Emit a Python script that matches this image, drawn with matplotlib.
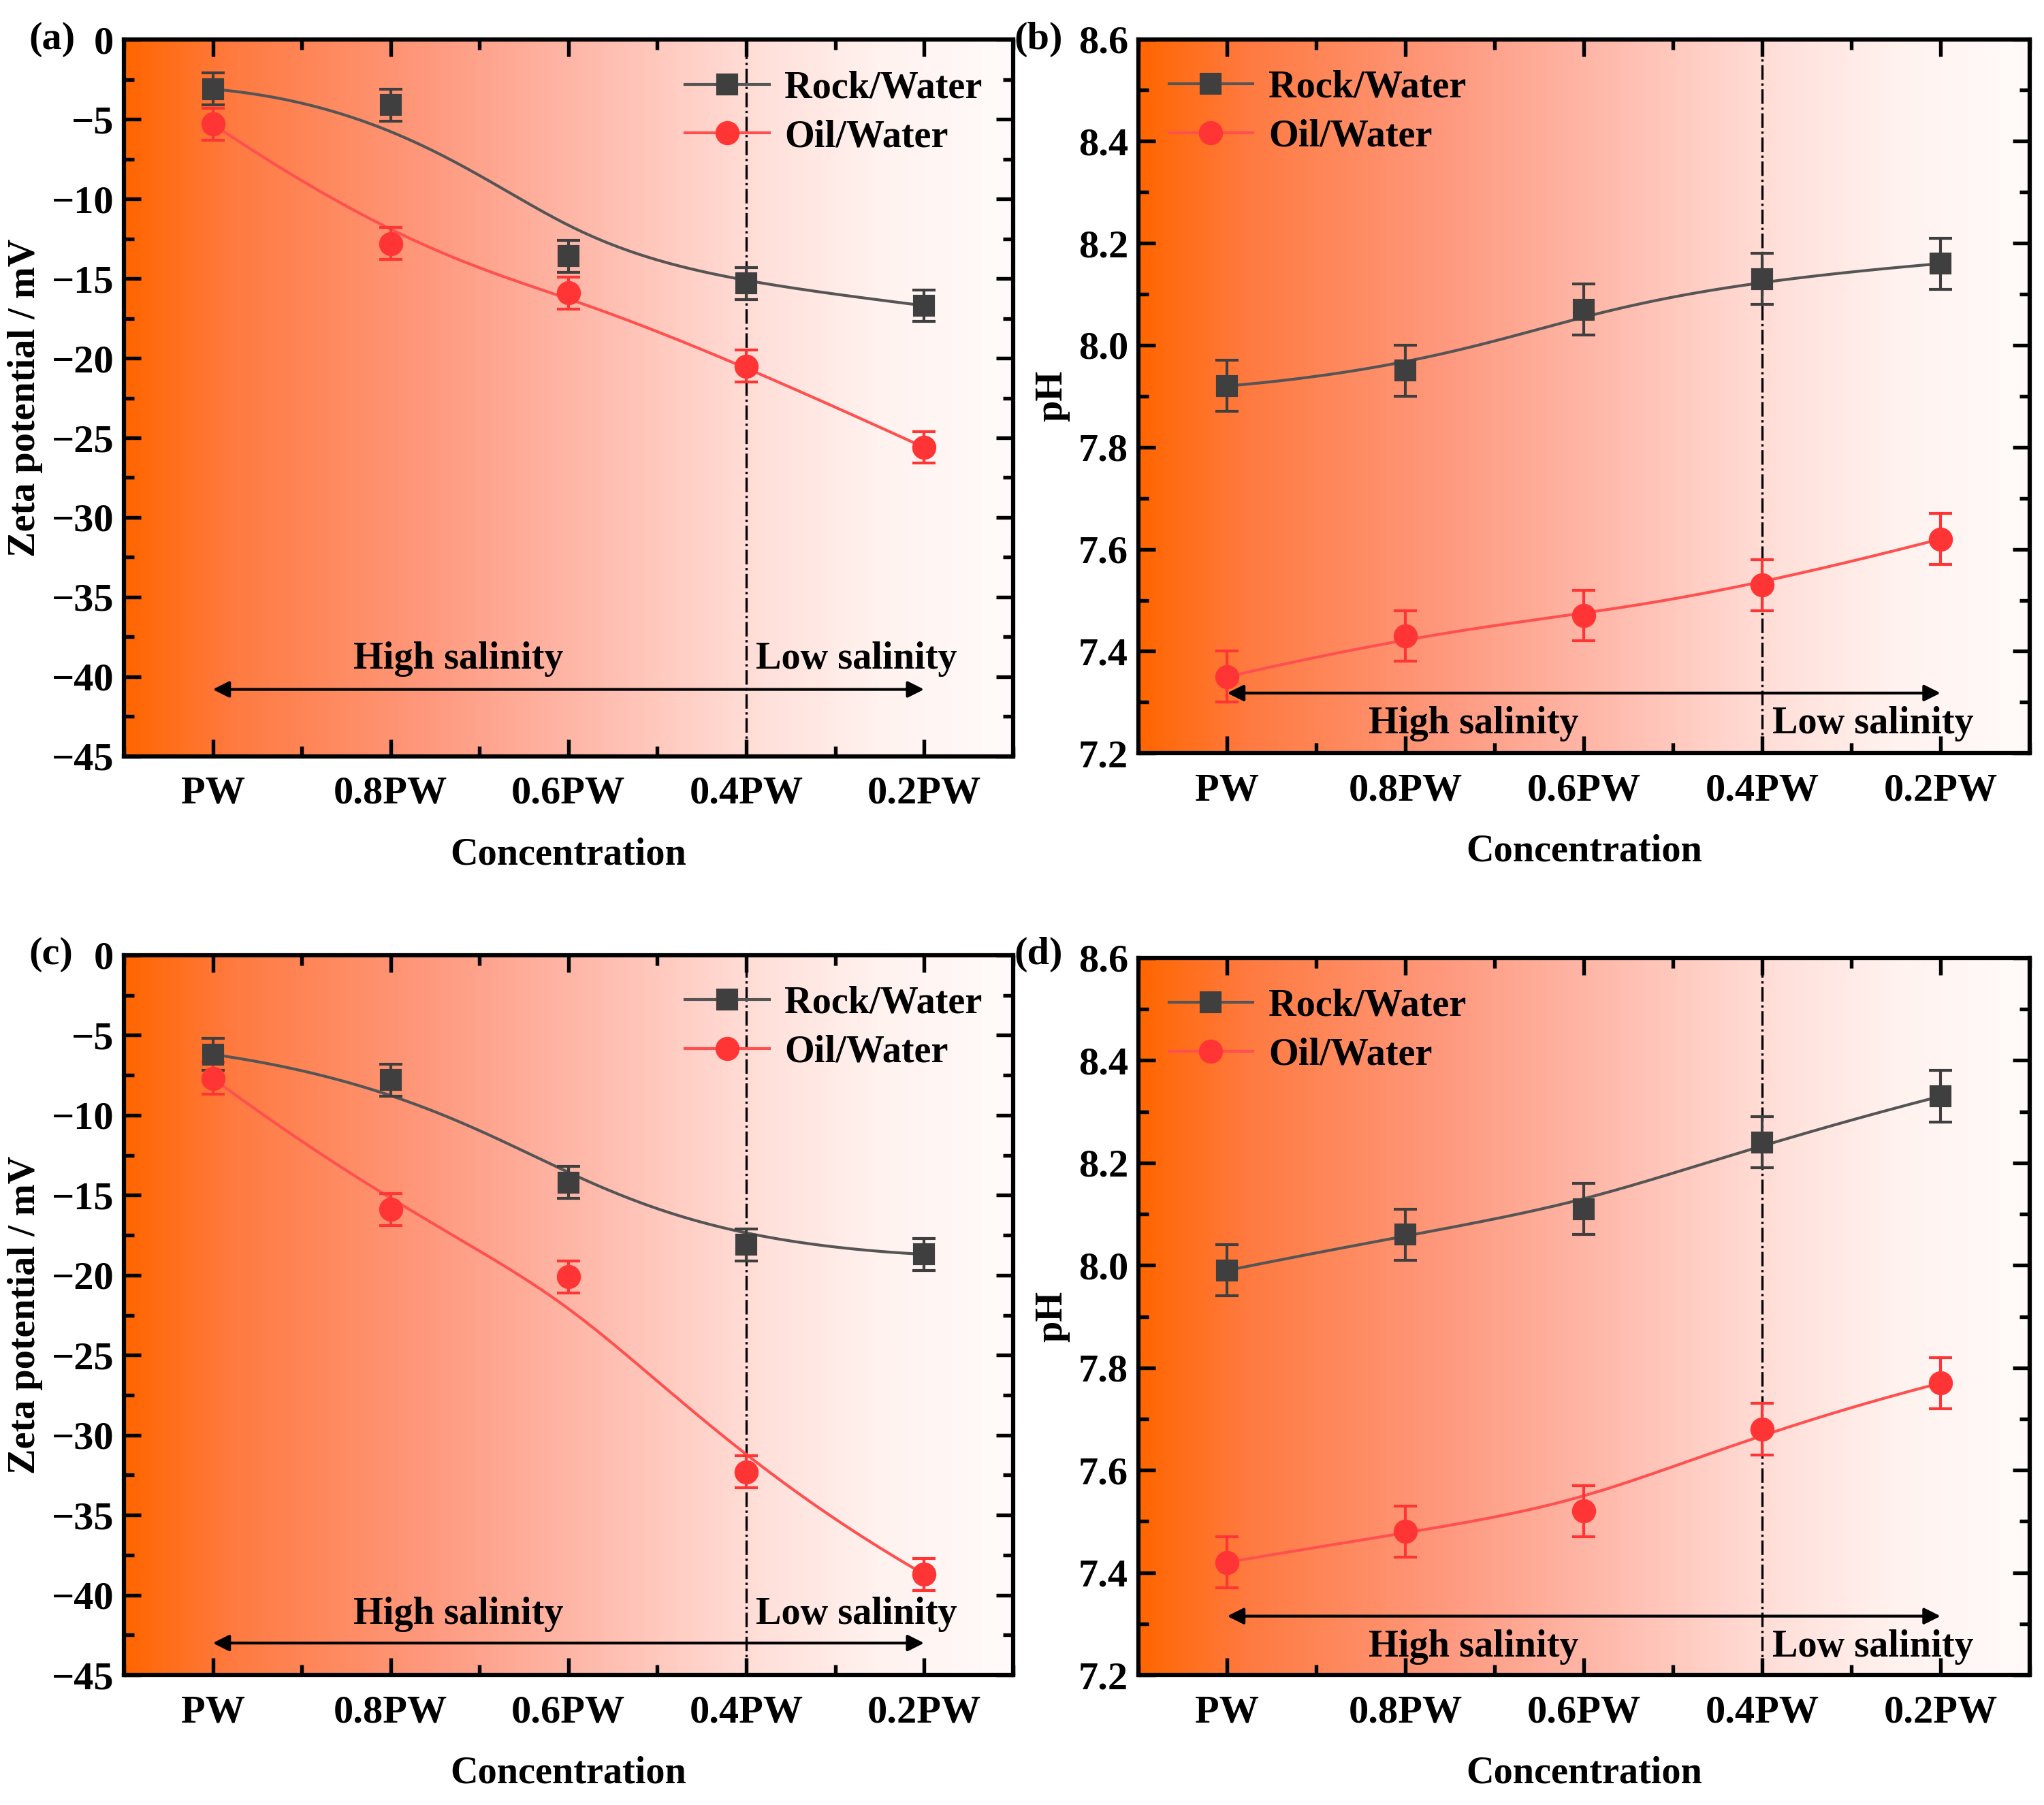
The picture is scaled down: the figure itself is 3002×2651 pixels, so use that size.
import numpy as np
import matplotlib
matplotlib.use("Agg")
import matplotlib.pyplot as plt
from matplotlib.colors import LinearSegmentedColormap
from matplotlib.lines import Line2D
from matplotlib.ticker import MultipleLocator

plt.rcParams['font.family'] = ['Liberation Serif', 'DejaVu Serif']
plt.rcParams['font.weight'] = 'bold'
plt.rcParams['axes.labelweight'] = 'bold'

# ---- data ----
conc = ['PW', '0.8PW', '0.6PW', '0.4PW', '0.2PW']

zeta_rock_a = [-3.1, -4.1, -13.6, -15.3, -16.7]
zeta_oil_a = [-5.3, -12.8, -15.9, -20.5, -25.6]
zeta_err_a = [1.0, 1.0, 1.0, 1.0, 1.0]

ph_rock_b = [7.92, 7.95, 8.07, 8.13, 8.16]
ph_oil_b = [7.35, 7.43, 7.47, 7.53, 7.62]
ph_err_b = [0.05, 0.05, 0.05, 0.05, 0.05]

zeta_rock_c = [-6.2, -7.8, -14.2, -18.1, -18.7]
zeta_oil_c = [-7.7, -15.9, -20.1, -32.3, -38.7]
zeta_err_c = [1.0, 1.0, 1.0, 1.0, 1.0]

ph_rock_d = [7.99, 8.06, 8.11, 8.24, 8.33]
ph_oil_d = [7.42, 7.48, 7.52, 7.68, 7.77]
ph_err_d = [0.05, 0.05, 0.05, 0.05, 0.05]

ROCK = '#3f3f3f'
ROCK_LINE = '#555555'
OIL = '#ff3535'
OIL_LINE = '#ff5050'

bg_cmap = LinearSegmentedColormap.from_list(
    'bg', [(0.0, '#ff6600'), (0.12, '#ff7a40'), (0.35, '#fe9a80'),
           (0.55, '#ffbfb2'), (0.72, '#ffe0da'), (0.85, '#fff2ef'), (1.0, '#fffbfa')])


def bspline(px, py, n=300):
    # clamped cubic B-spline using the points as control points (Origin style)
    P = np.column_stack([px, py])
    k = 3
    m = len(P)
    knots = np.concatenate([np.zeros(k), np.linspace(0, 1, m - k + 1), np.ones(k)])
    t = np.linspace(0, 1, n)
    t[-1] = 1 - 1e-10

    def N(i, p, t):
        if p == 0:
            return ((knots[i] <= t) & (t < knots[i + 1])).astype(float)
        a = 0.0
        d1 = knots[i + p] - knots[i]
        if d1 > 0:
            a = (t - knots[i]) / d1 * N(i, p - 1, t)
        b = 0.0
        d2 = knots[i + p + 1] - knots[i + 1]
        if d2 > 0:
            b = (knots[i + p + 1] - t) / d2 * N(i + 1, p - 1, t)
        return a + b

    B = np.array([N(i, k, t) for i in range(m)])
    C = B.T @ P
    return C[:, 0], C[:, 1]


def panel(ax, rock, oil, err, ylim, ymaj, ymin, ylabel, legloc, arrow_y, text_y, text_va):
    x = np.arange(len(conc))
    ax.imshow(np.linspace(0, 1, 512).reshape(1, -1), cmap=bg_cmap, aspect='auto',
              extent=[0, 1, 0, 1], transform=ax.transAxes, zorder=0)
    ax.axvline(3, color='black', lw=0.8, ls='-.', zorder=1)

    for yv, c, lc, mk, ms in [(rock, ROCK, ROCK_LINE, 's', 6.5), (oil, OIL, OIL_LINE, 'o', 7.5)]:
        sx, sy = bspline(x, yv)
        ax.plot(sx, sy, color=lc, lw=1.0, zorder=2)
        ax.errorbar(x, yv, yerr=err, fmt='none', ecolor=c, elinewidth=1.0,
                    capsize=4, capthick=1.0, zorder=3)
        ax.plot(x, yv, ls='none', marker=mk, ms=ms, color=c, mec=c, zorder=4)

    handles = [Line2D([], [], color=ROCK_LINE, lw=1.0, marker='s', ms=6.5, mfc=ROCK, mec=ROCK),
               Line2D([], [], color=OIL_LINE, lw=1.0, marker='o', ms=7.5, mfc=OIL, mec=OIL)]
    ax.legend(handles, ['Rock/Water', 'Oil/Water'], loc=legloc, frameon=False,
              fontsize=13.5, handlelength=2.2, handletextpad=0.4, borderaxespad=0.4,
              labelspacing=0.35)

    ax.annotate('', xy=(0, arrow_y), xytext=(3, arrow_y),
                arrowprops=dict(arrowstyle='-|>', color='black', lw=1.0,
                                mutation_scale=12, shrinkA=0, shrinkB=0), zorder=5)
    ax.annotate('', xy=(4, arrow_y), xytext=(3, arrow_y),
                arrowprops=dict(arrowstyle='-|>', color='black', lw=1.0,
                                mutation_scale=12, shrinkA=0, shrinkB=0), zorder=5)
    ax.text(1.38, text_y, 'High salinity', ha='center', va=text_va, fontsize=13.5,
            fontweight='bold', zorder=5)
    ax.text(3.62, text_y, 'Low salinity', ha='center', va=text_va, fontsize=13.5,
            fontweight='bold', zorder=5)

    ax.set_xlim(-0.5, 4.5)
    ax.set_ylim(*ylim)
    ax.set_xticks(x)
    ax.set_xticklabels(conc)
    ax.xaxis.set_minor_locator(MultipleLocator(0.5))
    ax.yaxis.set_major_locator(MultipleLocator(ymaj))
    ax.yaxis.set_minor_locator(MultipleLocator(ymin))
    ax.tick_params(which='both', direction='in', top=True, right=True, labelsize=14, width=1.3)
    ax.tick_params(which='major', length=6)
    ax.tick_params(which='minor', length=3.5)
    ax.tick_params(axis='x', which='major', pad=7)
    for s in ax.spines.values():
        s.set_linewidth(1.5)
    ax.set_xlabel('Concentration', fontsize=13.5, labelpad=9)
    ax.set_ylabel(ylabel, fontsize=13.5, labelpad=3)


fig = plt.figure(figsize=(3002 / 300, 2651 / 300), dpi=300)
ax_a = fig.add_axes([0.0606, 0.581, 0.435, 0.397])
ax_b = fig.add_axes([0.5568, 0.5827, 0.4362, 0.3956])
ax_c = fig.add_axes([0.0606, 0.072, 0.435, 0.3988])
ax_d = fig.add_axes([0.5568, 0.072, 0.4362, 0.3973])

panel(ax_a, zeta_rock_a, zeta_oil_a, zeta_err_a, (-45, 0), 5, 2.5,
      'Zeta potential / mV', 'upper right', -40.8, -40.0, 'bottom')
panel(ax_b, ph_rock_b, ph_oil_b, ph_err_b, (7.2, 8.6), 0.2, 0.1,
      'pH', 'upper left', 7.318, 7.292, 'top')
panel(ax_c, zeta_rock_c, zeta_oil_c, zeta_err_c, (-45, 0), 5, 2.5,
      'Zeta potential / mV', 'upper right', -43.0, -42.3, 'bottom')
panel(ax_d, ph_rock_d, ph_oil_d, ph_err_d, (7.2, 8.6), 0.2, 0.1,
      'pH', 'upper left', 7.315, 7.289, 'top')

for lab, xf, yf in [('(a)', 0.014, 0.978), ('(b)', 0.496, 0.978),
                    ('(c)', 0.014, 0.471), ('(d)', 0.496, 0.471)]:
    fig.text(xf, yf, lab, fontsize=14, fontweight='bold', ha='left', va='center')

fig.savefig('out.png', dpi=300)
